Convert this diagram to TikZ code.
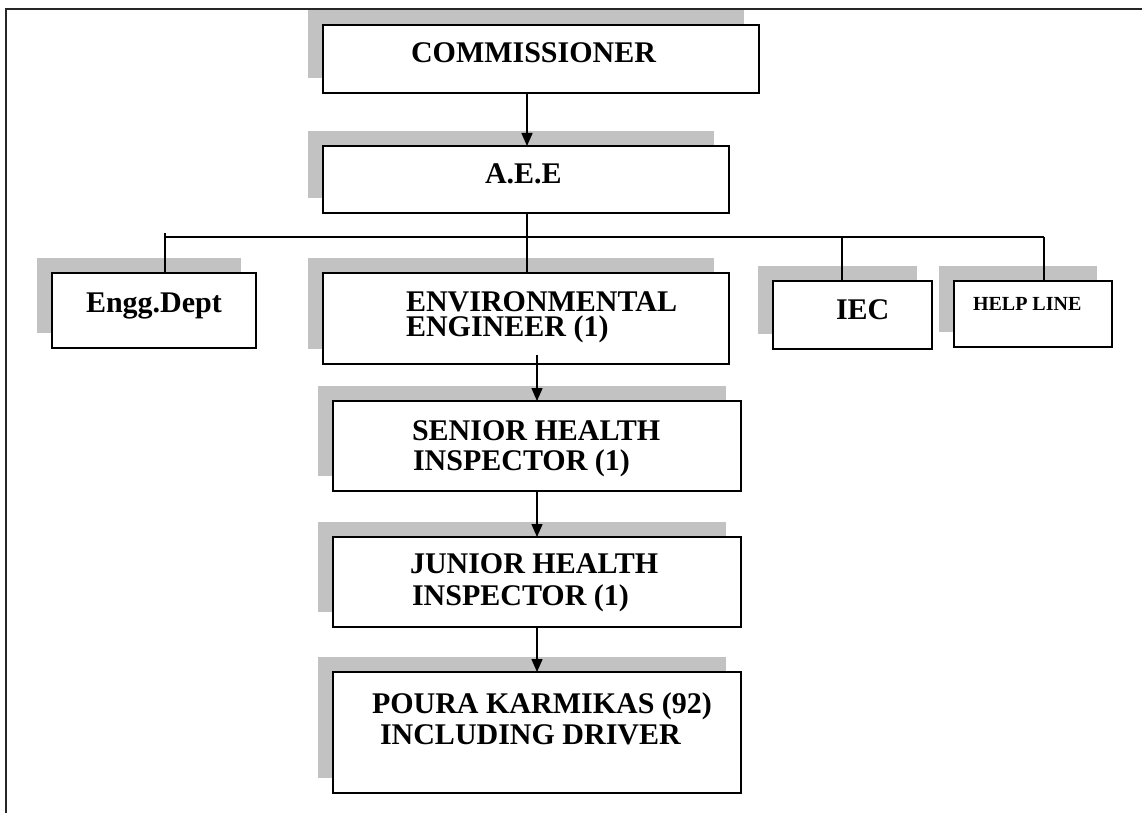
\documentclass[tikz,border=0pt]{standalone}
\usepackage{fontspec}
\setmainfont{Liberation Serif}
\usetikzlibrary{arrows.meta,shadows}
\begin{document}
\begin{tikzpicture}[x=1pt,y=-1pt,
  box/.style={draw=black,line width=1.5pt,fill=white,rectangle,inner sep=0pt,outer sep=0pt,anchor=north west,
    drop shadow={shadow xshift=-15pt,shadow yshift=15pt,fill=black!24,opacity=1}},
  lbl/.style={inner sep=0pt,outer sep=0pt,anchor=base west,font=\bfseries\fontsize{30}{30}\selectfont},
  smalllbl/.style={lbl,font=\bfseries\fontsize{20}{20}\selectfont},
  conn/.style={draw=black,line width=1.5pt},
  arr/.style={conn,-{Triangle[length=13pt,width=11pt]}},
  frame/.style={draw=black!85,line width=2.4pt}]
\useasboundingbox (0,0) rectangle (1142,813);
\draw[frame] (1142,9) -- (6,9) -- (6,813);
% boxes
\node[box,minimum width=436pt,minimum height=68pt] (com) at (323,25) {};
\node[box,minimum width=406pt,minimum height=67pt] (aee) at (323,146) {};
\node[box,minimum width=204pt,minimum height=75pt] (engg) at (52,273) {};
\node[box,minimum width=406pt,minimum height=91pt] (env) at (323,273) {};
\node[box,minimum width=159pt,minimum height=68pt] (iec) at (773,281) {};
\node[box,minimum width=158pt,minimum height=66pt] (help) at (954,281) {};
\node[box,minimum width=408pt,minimum height=90pt] (senior) at (333,401) {};
\node[box,minimum width=408pt,minimum height=90pt] (junior) at (333,537) {};
\node[box,minimum width=408pt,minimum height=121pt] (poura) at (333,672) {};
% labels
\node[lbl] (tcom) at (411,63) {COMMISSIONER};
\node[lbl] (taee) at (485,183) {A.E.E};
\node[lbl] (tengg) at (86,312) {Engg.Dept};
\node[lbl] (tenv1) at (406,311) {ENVIRONMENTAL};
\node[lbl] (tenv2) at (406,336) {ENGINEER (1)};
\node[lbl] (tiec) at (836,319) {IEC};
\node[smalllbl] (thelp) at (973,310) {HELP LINE};
\node[lbl] (tsen1) at (412,440) {SENIOR HEALTH};
\node[lbl] (tsen2) at (413,470.7) {INSPECTOR (1)};
\node[lbl] (tjun1) at (410,573) {JUNIOR HEALTH};
\node[lbl] (tjun2) at (412,605) {INSPECTOR (1)};
\node[lbl] (tpou1) at (372,713) {POURA KARMIKAS (92)};
\node[lbl] (tpou2) at (380,744) {INCLUDING DRIVER};
% connector guides
\coordinate (xa) at (527,0);
\coordinate (xb) at (537,0);
\coordinate (bl) at (165,237);
\coordinate (br) at (1044,237);
\coordinate (xiec) at (842,237);
% connectors
\draw[arr] (xa |- com.south) -- (xa |- aee.north);
\draw[conn] (xa |- aee.south) -- (xa |- env.north);
\draw[conn] (bl) -- (br);
\draw[conn] ([yshift=4pt]bl) -- (bl |- engg.north);
\draw[conn] (xiec) -- (xiec |- iec.north);
\draw[conn] (br) -- (br |- help.north);
\draw[arr] ([yshift=9pt]xb |- env.south) -- (xb |- senior.north);
\draw[arr] (xb |- senior.south) -- (xb |- junior.north);
\draw[arr] (xb |- junior.south) -- (xb |- poura.north);
\end{tikzpicture}
\end{document}
